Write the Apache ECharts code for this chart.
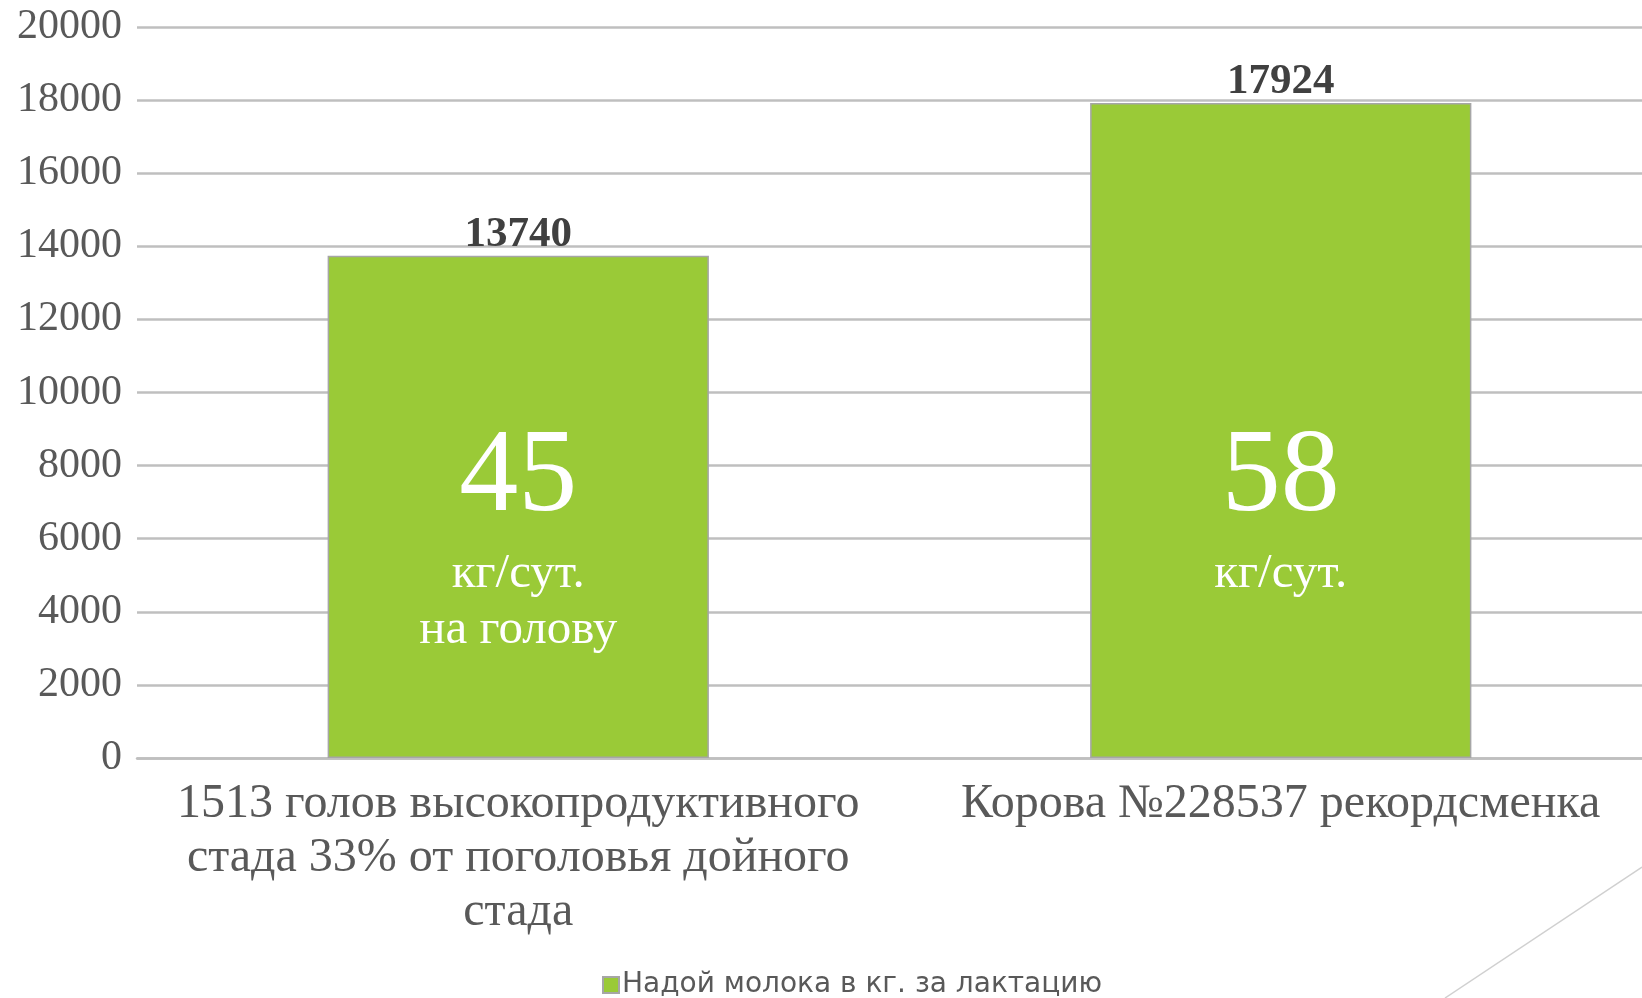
<!DOCTYPE html>
<html>
<head>
<meta charset="utf-8">
<script src="https://cdn.jsdelivr.net/npm/echarts@6/dist/echarts.min.js"></script>
<style>
  html, body { margin: 0; padding: 0; background: #fff; }
  #chart { width: 1642px; height: 998px; }
</style>
</head>
<body>
<div id="chart"></div>
<script>
// данные графика
var categories = [
  '1513 голов высокопродуктивного\nстада 33% от поголовья дойного\nстада',
  'Корова №228537 рекордсменка'
];
var milkYield = [13740, 17924];
var perDay = ['45', '58'];
var perDayUnit = ['кг/сут.\nна голову', 'кг/сут.\n '];
var seriesName = 'Надой молока в кг. за лактацию';

var serif = '"Liberation Serif", "DejaVu Serif", serif';

var myChart = echarts.init(document.getElementById('chart'));

myChart.setOption({
  animation: false,
  grid: { left: 137, width: 1525, top: 27, bottom: 240, outerBoundsMode: 'none' },
  legend: {
    data: [seriesName],
    left: 597,
    top: 966,
    icon: 'rect',
    itemWidth: 16,
    itemHeight: 16,
    itemGap: 4,
    textStyle: { fontFamily: '"DejaVu Sans", sans-serif', fontSize: 28, color: '#595959', padding: [0, 0, 0, -2] }
  },
  xAxis: {
    type: 'category',
    data: categories,
    axisTick: { show: false },
    axisLine: { lineStyle: { color: '#bfbfbf', width: 2.5 } },
    axisLabel: {
      interval: 0,
      margin: 19,
      color: '#595959',
      fontFamily: serif,
      fontSize: 48,
      lineHeight: 54
    }
  },
  yAxis: {
    type: 'value',
    min: 0,
    max: 20000,
    interval: 2000,
    axisLine: { show: false },
    axisTick: { show: false },
    splitLine: { lineStyle: { color: '#bfbfbf', width: 2.5 } },
    axisLabel: {
      margin: 15,
      color: '#595959',
      fontFamily: serif,
      fontSize: 42,
      formatter: function (v) { return String(v); }
    }
  },
  series: [
    {
      name: seriesName,
      type: 'bar',
      barWidth: '50%',
      data: milkYield,
      itemStyle: { color: '#9aca37', borderColor: '#a6a6a6', borderWidth: 1.5 },
      label: {
        show: true,
        position: 'top',
        distance: 0,
        color: '#404040',
        fontFamily: serif,
        fontWeight: 'bold',
        fontSize: 43,
        lineHeight: 42
      },
      z: 2
    },
    {
      // подписи внутри столбцов
      name: 'inner',
      type: 'bar',
      barWidth: '50%',
      barGap: '-100%',
      data: milkYield.map(function (v, i) {
        return {
          value: v,
          label: {
            formatter: '{big|' + perDay[i] + '}\n{unit|' + perDayUnit[i] + '}'
          }
        };
      }),
      itemStyle: { color: 'rgba(0,0,0,0)' },
      label: {
        show: true,
        position: 'insideBottom',
        distance: 100,
        rich: {
          big: { fontFamily: serif, fontSize: 118, lineHeight: 134, color: '#fff', align: 'center' },
          unit: { fontFamily: serif, fontSize: 49, lineHeight: 56, color: '#fff', align: 'center' }
        }
      },
      z: 3
    }
  ],
  graphic: [
    {
      type: 'line',
      shape: { x1: 1642, y1: 867, x2: 1445, y2: 998 },
      style: { stroke: '#d0d0d0', lineWidth: 1.5 }
    }
  ]
});
</script>
</body>
</html>
